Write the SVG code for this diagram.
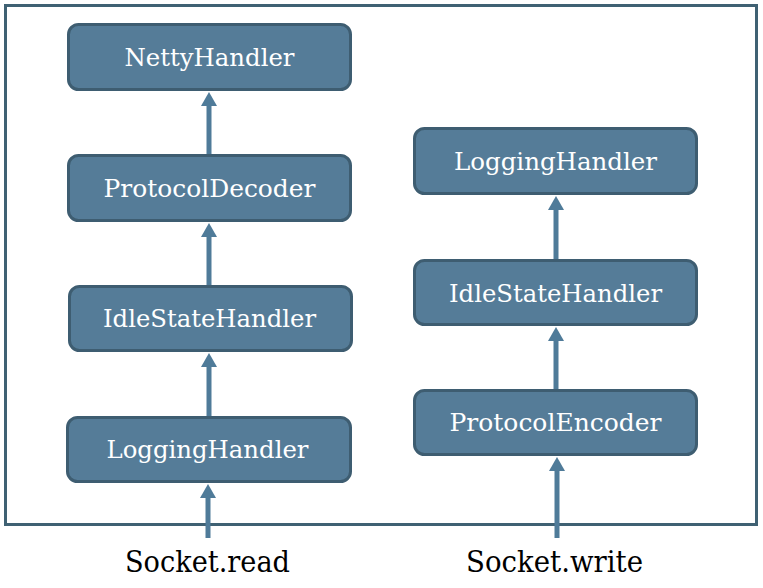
<svg xmlns="http://www.w3.org/2000/svg" width="763" height="588" viewBox="0 0 763 588">
<style>
.node rect{fill:#557c98;stroke:#3e5d71;stroke-width:3}
.node text{fill:#ffffff;font-family:"DejaVu Serif","Liberation Serif",serif;font-size:25px;text-anchor:middle}
.lbl{fill:#000000;font-family:"DejaVu Serif","Liberation Serif",serif;font-size:29px;text-anchor:middle}
.conn line{stroke:#4f7b99;stroke-width:5}
</style>
<defs>
<marker id="ah" markerUnits="userSpaceOnUse" viewBox="0 0 14 16" markerWidth="14" markerHeight="16" refX="2" refY="8" orient="auto">
<path d="M0,0 L14,8 L0,16 z" fill="#4f7b99"/>
</marker>
</defs>
<rect id="frame" x="5.5" y="5.5" width="751" height="519" fill="#ffffff" stroke="#3f6173" stroke-width="3"/>
<g id="n-netty" class="node"><rect x="68.5" y="24.5" width="282" height="65" rx="10"/><text x="209.5" y="66" textLength="170" lengthAdjust="spacingAndGlyphs">NettyHandler</text></g>
<g id="n-decoder" class="node"><rect x="68.5" y="155.5" width="282" height="65" rx="10"/><text x="209.5" y="197" textLength="212" lengthAdjust="spacingAndGlyphs">ProtocolDecoder</text></g>
<g id="n-idle-l" class="node"><rect x="69.5" y="286.5" width="282" height="64" rx="10"/><text x="209.5" y="327" textLength="213" lengthAdjust="spacingAndGlyphs">IdleStateHandler</text></g>
<g id="n-log-l" class="node"><rect x="67.5" y="417.5" width="283" height="64" rx="10"/><text x="207.5" y="458" textLength="202" lengthAdjust="spacingAndGlyphs">LoggingHandler</text></g>
<g id="n-log-r" class="node"><rect x="414.5" y="128.5" width="282" height="65" rx="10"/><text x="555.5" y="170" textLength="203" lengthAdjust="spacingAndGlyphs">LoggingHandler</text></g>
<g id="n-idle-r" class="node"><rect x="414.5" y="260.5" width="282" height="64" rx="10"/><text x="555.5" y="302" textLength="213" lengthAdjust="spacingAndGlyphs">IdleStateHandler</text></g>
<g id="n-encoder" class="node"><rect x="414.5" y="390.5" width="282" height="64" rx="10"/><text x="555.5" y="431" textLength="212" lengthAdjust="spacingAndGlyphs">ProtocolEncoder</text></g>
<g id="connectors" class="conn">
<line x1="209" y1="154" x2="209" y2="104" marker-end="url(#ah)"/>
<line x1="209" y1="285" x2="209" y2="235" marker-end="url(#ah)"/>
<line x1="209" y1="416" x2="209" y2="365" marker-end="url(#ah)"/>
<line x1="208" y1="538" x2="208" y2="496" marker-end="url(#ah)"/>
<line x1="556" y1="259" x2="556" y2="208" marker-end="url(#ah)"/>
<line x1="556" y1="389" x2="556" y2="339" marker-end="url(#ah)"/>
<line x1="557" y1="538" x2="557" y2="469" marker-end="url(#ah)"/>
</g>
<text class="lbl" x="207.5" y="572" textLength="165" lengthAdjust="spacingAndGlyphs">Socket.read</text>
<text class="lbl" x="554.5" y="572" textLength="177" lengthAdjust="spacingAndGlyphs">Socket.write</text>
</svg>
